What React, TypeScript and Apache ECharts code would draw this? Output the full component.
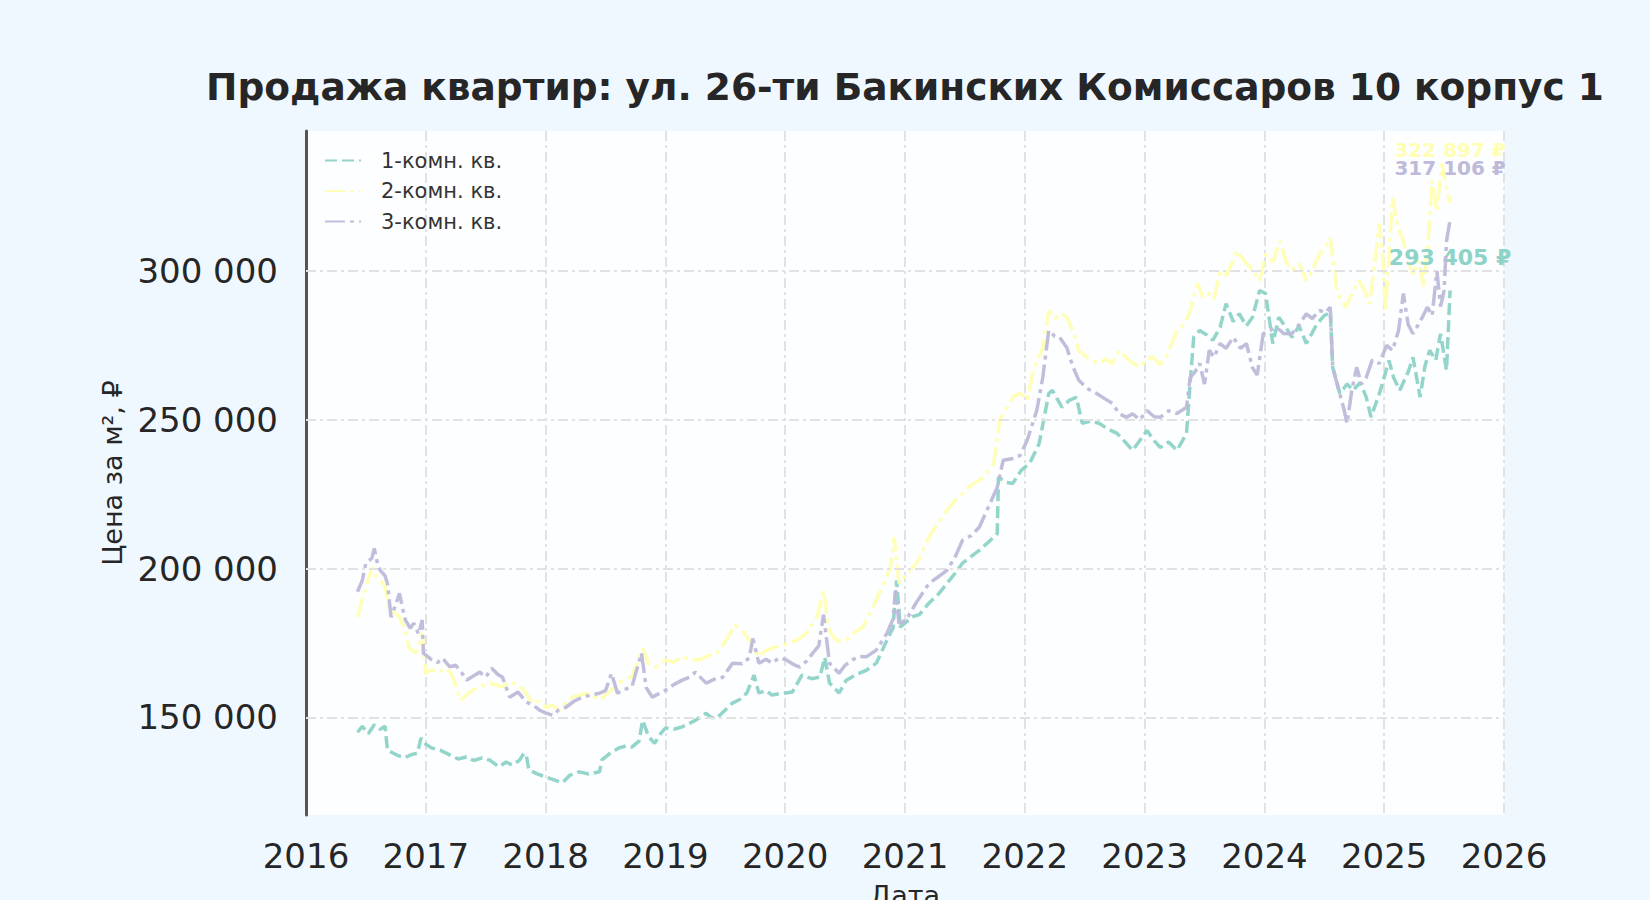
import React, { useEffect, useRef } from "react";
import * as echarts from "echarts";

const TITLE = "Продажа квартир: ул. 26-ти Бакинских Комиссаров 10 корпус 1";
const SERIES_NAMES = ["1-комн. кв.", "2-комн. кв.", "3-комн. кв."];
const COLORS = ["#8dd3c7", "#ffffb3", "#bebada"];
const X_TICKS = [2016, 2017, 2018, 2019, 2020, 2021, 2022, 2023, 2024, 2025, 2026];
const Y_TICKS = [150000, 200000, 250000, 300000];
const LAST_VALUES = [293405, 322897, 317106];

// [decimal year, price per m²]
const oneRoom: [number, number][] = [
  [2016.43, 145000], [2016.47, 147000], [2016.52, 144500], [2016.57, 147500], [2016.62, 146000],
  [2016.66, 147000], [2016.68, 139000], [2016.75, 137500], [2016.82, 136400], [2016.88, 137500],
  [2016.93, 138000], [2016.96, 143000], [2017.0, 141000], [2017.05, 139700], [2017.12, 139000],
  [2017.2, 137400], [2017.27, 136000], [2017.34, 136700], [2017.4, 135500], [2017.47, 136400],
  [2017.54, 135500], [2017.61, 133400], [2017.67, 135000], [2017.72, 134000], [2017.78, 135500],
  [2017.82, 138000], [2017.84, 137000], [2017.86, 132400], [2017.93, 131000], [2018.0, 130000],
  [2018.07, 129000], [2018.14, 128000], [2018.2, 130500], [2018.28, 131700], [2018.36, 131000],
  [2018.45, 131700], [2018.47, 135700], [2018.54, 138000], [2018.61, 139700], [2018.68, 140500],
  [2018.72, 140000], [2018.78, 142000], [2018.81, 149000], [2018.86, 143500], [2018.91, 141300],
  [2018.96, 144500], [2019.0, 146400], [2019.07, 146000], [2019.14, 146800], [2019.2, 148000],
  [2019.25, 149000], [2019.34, 151400], [2019.38, 150000], [2019.43, 149800], [2019.5, 152500],
  [2019.56, 154800], [2019.62, 156000], [2019.68, 158200], [2019.74, 164200], [2019.78, 158200],
  [2019.84, 159000], [2019.89, 157500], [2019.96, 158000], [2020.06, 158500], [2020.14, 164200],
  [2020.22, 163000], [2020.29, 163500], [2020.33, 170200], [2020.37, 161500], [2020.45, 158200],
  [2020.51, 162500], [2020.6, 164500], [2020.68, 165900], [2020.76, 168200], [2020.85, 176000],
  [2020.9, 180000], [2020.93, 196000], [2020.96, 180300], [2021.06, 183800], [2021.12, 184500],
  [2021.2, 188400], [2021.27, 191000], [2021.35, 195000], [2021.42, 198500], [2021.48, 201800],
  [2021.55, 204000], [2021.62, 206100], [2021.7, 209000], [2021.77, 211800], [2021.78, 230700],
  [2021.84, 229000], [2021.9, 228600], [2021.97, 233000], [2022.04, 235300], [2022.12, 242000],
  [2022.2, 258800], [2022.23, 259900], [2022.31, 254200], [2022.37, 256500], [2022.43, 257500],
  [2022.48, 248800], [2022.55, 249500], [2022.62, 248800], [2022.69, 247000], [2022.77, 245400],
  [2022.85, 242000], [2022.9, 239700], [2022.96, 243000], [2023.02, 246400], [2023.08, 243000],
  [2023.13, 240700], [2023.2, 242500], [2023.27, 239700], [2023.35, 245400], [2023.38, 262200],
  [2023.41, 277700], [2023.46, 280000], [2023.52, 278500], [2023.57, 276700], [2023.63, 281000],
  [2023.68, 289000], [2023.74, 283000], [2023.79, 285600], [2023.85, 281500], [2023.9, 284400],
  [2023.96, 293400], [2024.01, 292400], [2024.07, 275600], [2024.12, 284400], [2024.18, 281000],
  [2024.23, 277700], [2024.29, 281500], [2024.35, 275600], [2024.44, 282300], [2024.5, 285000],
  [2024.55, 286000], [2024.57, 267600], [2024.63, 258800], [2024.69, 262000], [2024.74, 259900],
  [2024.8, 262500], [2024.85, 257600], [2024.89, 250900], [2024.96, 258800], [2025.04, 269900],
  [2025.08, 264000], [2025.13, 259900], [2025.2, 266000], [2025.24, 271000], [2025.3, 257600],
  [2025.34, 268000], [2025.38, 273300], [2025.43, 270000], [2025.47, 278900], [2025.52, 266600],
  [2025.55, 293405],
];

const twoRoom: [number, number][] = [
  [2016.43, 183700], [2016.47, 190000], [2016.5, 193800], [2016.55, 200400], [2016.59, 197000],
  [2016.63, 195400], [2016.66, 194000], [2016.69, 186700], [2016.74, 185000], [2016.78, 183700],
  [2016.83, 179300], [2016.86, 173300], [2016.92, 171600], [2016.97, 178300], [2017.0, 164800],
  [2017.05, 166000], [2017.11, 165200], [2017.17, 166500], [2017.22, 164200], [2017.29, 155800],
  [2017.34, 157500], [2017.39, 159100], [2017.46, 160500], [2017.53, 161500], [2017.58, 161000],
  [2017.64, 160200], [2017.7, 162000], [2017.78, 160800], [2017.84, 158000], [2017.89, 154800],
  [2017.95, 155500], [2018.0, 153400], [2018.06, 154000], [2018.11, 152400], [2018.17, 155000],
  [2018.22, 156800], [2018.29, 157500], [2018.34, 158100], [2018.4, 157000], [2018.45, 155800],
  [2018.53, 158500], [2018.61, 161500], [2018.67, 163000], [2018.72, 163600], [2018.81, 173300],
  [2018.86, 168000], [2018.92, 166900], [2019.0, 169300], [2019.07, 168500], [2019.14, 170400],
  [2019.2, 169500], [2019.28, 169300], [2019.35, 170500], [2019.43, 171600], [2019.51, 176000],
  [2019.58, 181000], [2019.64, 179300], [2019.7, 176000], [2019.78, 170400], [2019.84, 172500],
  [2019.89, 173300], [2019.96, 174000], [2020.06, 175300], [2020.12, 176500], [2020.18, 178300],
  [2020.26, 183300], [2020.32, 192700], [2020.36, 180000], [2020.4, 177000], [2020.45, 175500],
  [2020.51, 176000], [2020.58, 178500], [2020.65, 180400], [2020.73, 187000], [2020.81, 193800],
  [2020.88, 200500], [2020.91, 210500], [2020.95, 195000], [2021.04, 199400], [2021.1, 202000],
  [2021.2, 210500], [2021.27, 215000], [2021.35, 219600], [2021.42, 223000], [2021.48, 225200],
  [2021.55, 228000], [2021.62, 229600], [2021.68, 232000], [2021.74, 235300], [2021.79, 249800],
  [2021.85, 254000], [2021.9, 257600], [2021.96, 259000], [2022.02, 256500], [2022.07, 266600],
  [2022.15, 274300], [2022.2, 286700], [2022.25, 284000], [2022.31, 285600], [2022.35, 284400],
  [2022.4, 280000], [2022.45, 273300], [2022.48, 272200], [2022.55, 270000], [2022.62, 268900],
  [2022.68, 270500], [2022.73, 268800], [2022.79, 273300], [2022.87, 269900], [2022.96, 267600],
  [2023.02, 270500], [2023.07, 271000], [2023.13, 268500], [2023.18, 271000], [2023.27, 280000],
  [2023.33, 282000], [2023.38, 286700], [2023.44, 295800], [2023.49, 291000], [2023.54, 292400],
  [2023.58, 290500], [2023.63, 300000], [2023.68, 298500], [2023.74, 303400], [2023.77, 306800],
  [2023.85, 302400], [2023.9, 300500], [2023.96, 296700], [2024.01, 305700], [2024.07, 303000],
  [2024.13, 310000], [2024.18, 303400], [2024.23, 300000], [2024.29, 302400], [2024.35, 296700],
  [2024.38, 298500], [2024.46, 305700], [2024.51, 308000], [2024.55, 311200], [2024.6, 294500],
  [2024.63, 291100], [2024.68, 287800], [2024.73, 292500], [2024.79, 296700], [2024.84, 293000],
  [2024.88, 289000], [2024.96, 315900], [2024.99, 303400], [2025.01, 286700], [2025.04, 305000],
  [2025.07, 324700], [2025.11, 315000], [2025.16, 310200], [2025.2, 303000], [2025.24, 299000],
  [2025.29, 303500], [2025.33, 294500], [2025.37, 312000], [2025.4, 330400], [2025.44, 320000],
  [2025.48, 336000], [2025.52, 328000], [2025.55, 322897],
];

const threeRoom: [number, number][] = [
  [2016.43, 192200], [2016.47, 196000], [2016.5, 201800], [2016.55, 203500], [2016.57, 206800],
  [2016.6, 201000], [2016.62, 199400], [2016.66, 197500], [2016.68, 195000], [2016.71, 183700],
  [2016.75, 188000], [2016.78, 191700], [2016.81, 186000], [2016.83, 182700], [2016.87, 180000],
  [2016.9, 181600], [2016.94, 178000], [2016.97, 182700], [2016.98, 171600], [2017.05, 169300],
  [2017.1, 168500], [2017.14, 169900], [2017.2, 167000], [2017.25, 167500], [2017.3, 165000],
  [2017.34, 162500], [2017.4, 164000], [2017.45, 165200], [2017.5, 163500], [2017.55, 166500],
  [2017.6, 164500], [2017.64, 163500], [2017.7, 156800], [2017.77, 158500], [2017.84, 155100],
  [2017.9, 154000], [2017.95, 152400], [2018.0, 151500], [2018.06, 150700], [2018.11, 152500],
  [2018.17, 153400], [2018.24, 155500], [2018.31, 156800], [2018.38, 157500], [2018.45, 158100],
  [2018.5, 159000], [2018.55, 164800], [2018.6, 158100], [2018.64, 159100], [2018.72, 160200],
  [2018.8, 171600], [2018.84, 160000], [2018.89, 156800], [2019.0, 159100], [2019.07, 161000],
  [2019.14, 162500], [2019.2, 163500], [2019.25, 165200], [2019.34, 161500], [2019.42, 163000],
  [2019.48, 163500], [2019.56, 168200], [2019.64, 168000], [2019.7, 170000], [2019.73, 176500],
  [2019.78, 168200], [2019.84, 169500], [2019.89, 168200], [2019.95, 170000], [2020.01, 169300],
  [2020.06, 168000], [2020.12, 166900], [2020.18, 169000], [2020.23, 171600], [2020.28, 174000],
  [2020.32, 184500], [2020.37, 168200], [2020.45, 164800], [2020.5, 167500], [2020.56, 169300],
  [2020.62, 170500], [2020.68, 170400], [2020.76, 172600], [2020.85, 178300], [2020.9, 183000],
  [2020.92, 192700], [2020.95, 181600], [2021.01, 182700], [2021.09, 188300], [2021.2, 195000],
  [2021.27, 197000], [2021.35, 199400], [2021.42, 204000], [2021.48, 209500], [2021.55, 211000],
  [2021.62, 213900], [2021.71, 221900], [2021.77, 227300], [2021.82, 236400], [2021.9, 237000],
  [2021.96, 238000], [2022.02, 243100], [2022.1, 253100], [2022.15, 264200], [2022.2, 280000],
  [2022.25, 278000], [2022.29, 277700], [2022.35, 274300], [2022.4, 268000], [2022.45, 263300],
  [2022.52, 260500], [2022.6, 258800], [2022.67, 257000], [2022.73, 255500], [2022.79, 252000],
  [2022.85, 250800], [2022.9, 252000], [2022.96, 250000], [2023.02, 253100], [2023.08, 251000],
  [2023.13, 250800], [2023.2, 253000], [2023.27, 252100], [2023.35, 254200], [2023.38, 264200],
  [2023.42, 266000], [2023.46, 268900], [2023.5, 262000], [2023.54, 273300], [2023.58, 271000],
  [2023.63, 275600], [2023.68, 274000], [2023.74, 277700], [2023.8, 274000], [2023.85, 275600],
  [2023.9, 267600], [2023.94, 265000], [2023.99, 278900], [2024.05, 280000], [2024.1, 281100],
  [2024.16, 279000], [2024.23, 278900], [2024.29, 282000], [2024.35, 285600], [2024.4, 284000],
  [2024.46, 286700], [2024.51, 286000], [2024.55, 287800], [2024.57, 267600], [2024.62, 260000],
  [2024.66, 254200], [2024.69, 248800], [2024.73, 260000], [2024.77, 267600], [2024.81, 262000],
  [2024.85, 264200], [2024.9, 270000], [2024.96, 268900], [2025.02, 275000], [2025.07, 273300],
  [2025.12, 280000], [2025.16, 292400], [2025.2, 282000], [2025.24, 278900], [2025.3, 283000],
  [2025.36, 287800], [2025.4, 285000], [2025.44, 300000], [2025.47, 288000], [2025.5, 293400],
  [2025.52, 310000], [2025.55, 317106],
];

const SERIES_DATA = [oneRoom, twoRoom, threeRoom];
const DASHES: number[][] = [[12, 5], [20, 5, 4, 5], [20, 5, 4, 5]];
const LABEL_OFFSETS = [-33, -53, -52];
const LABEL_SIZES = [22, 20, 20];

const FONT = "DejaVu Sans";
const fmt = (v: number) => String(Math.round(v)).replace(/\B(?=(\d{3})+(?!\d))/g, " ");

export default function App() {
  const ref = useRef<HTMLDivElement>(null);

  useEffect(() => {
    if (!ref.current) return;
    const chart = echarts.init(ref.current, null, { renderer: "svg" });

    const gridLine = { color: "#e2e2e2", width: 2, type: [10, 4, 3, 4] as number[] };

    const series: any[] = [
      {
        name: "__grid",
        type: "line",
        data: [],
        z: 1,
        silent: true,
        markLine: {
          silent: true,
          symbol: ["none", "none"],
          label: { show: false },
          lineStyle: gridLine,
          emphasis: { disabled: true },
          data: Y_TICKS.map((v) => ({ yAxis: v })),
        },
      },
    ];

    SERIES_NAMES.forEach((name, i) => {
      const data = SERIES_DATA[i];
      const last = data[data.length - 1];
      series.push({
        name,
        type: "line",
        data,
        z: 3 + i,
        symbol: "none",
        showSymbol: false,
        color: COLORS[i],
        lineStyle: { color: COLORS[i], width: 3.5, type: DASHES[i], opacity: 0.95 },
        emphasis: { disabled: true },
        markPoint: {
          symbol: "circle",
          symbolSize: 0,
          silent: true,
          data: [
            {
              coord: last,
              value: LAST_VALUES[i],
              label: {
                show: true,
                position: "inside",
                offset: [0, LABEL_OFFSETS[i]],
                formatter: () => fmt(LAST_VALUES[i]) + " ₽",
                color: COLORS[i],
                fontFamily: FONT,
                fontWeight: "bold",
                fontSize: LABEL_SIZES[i],
              },
            },
          ],
        },
      });
    });

    chart.setOption({
      animation: false,
      backgroundColor: "#F0F8FF",
      textStyle: { fontFamily: FONT },
      title: {
        text: TITLE,
        left: 905,
        top: 68,
        padding: 0,
        textAlign: "center",
        textStyle: { fontFamily: FONT, fontSize: 37.5, fontWeight: "bold", color: "#262626" },
      },
      legend: {
        data: SERIES_NAMES,
        orient: "vertical",
        left: 319,
        top: 145,
        itemWidth: 36,
        itemHeight: 14,
        itemGap: 9.5,
        itemStyle: { opacity: 0 },
        textStyle: { fontFamily: FONT, fontSize: 21, color: "#333", padding: [0, 0, 0, 15] },
      },
      grid: {
        left: 306,
        right: 146,
        top: 131,
        bottom: 85,
        show: true,
        backgroundColor: "#FDFEFF",
        borderWidth: 0,
        containLabel: false,
        outerBoundsMode: "none",
      },
      xAxis: {
        type: "value",
        min: X_TICKS[0],
        max: X_TICKS[X_TICKS.length - 1],
        interval: 1,
        name: "Дата",
        nameLocation: "middle",
        nameGap: 67,
        nameTextStyle: { fontFamily: FONT, fontSize: 27, color: "#262626" },
        axisLine: { show: false },
        axisTick: { show: false },
        axisLabel: {
          fontFamily: FONT,
          fontSize: 34,
          color: "#262626",
          margin: 24,
          formatter: (v: number) => String(Math.round(v)),
        },
        splitLine: { show: true, lineStyle: gridLine },
      },
      yAxis: {
        type: "value",
        min: 117200,
        max: 347000,
        name: "Цена за м², ₽",
        nameLocation: "middle",
        nameGap: 180,
        nameTextStyle: { fontFamily: FONT, fontSize: 27, color: "#262626" },
        axisLine: { show: true, lineStyle: { color: "#555555", width: 3 } },
        axisTick: { show: false },
        splitLine: { show: false },
        axisLabel: {
          customValues: Y_TICKS,
          fontFamily: FONT,
          fontSize: 34,
          color: "#262626",
          margin: 28,
          formatter: (v: number) => fmt(v),
        },
      },
      series,
    });

    return () => chart.dispose();
  }, []);

  return (
    <div
      ref={ref}
      style={{ position: "fixed", left: 0, top: 0, width: 1650, height: 900, background: "#F0F8FF" }}
    />
  );
}
